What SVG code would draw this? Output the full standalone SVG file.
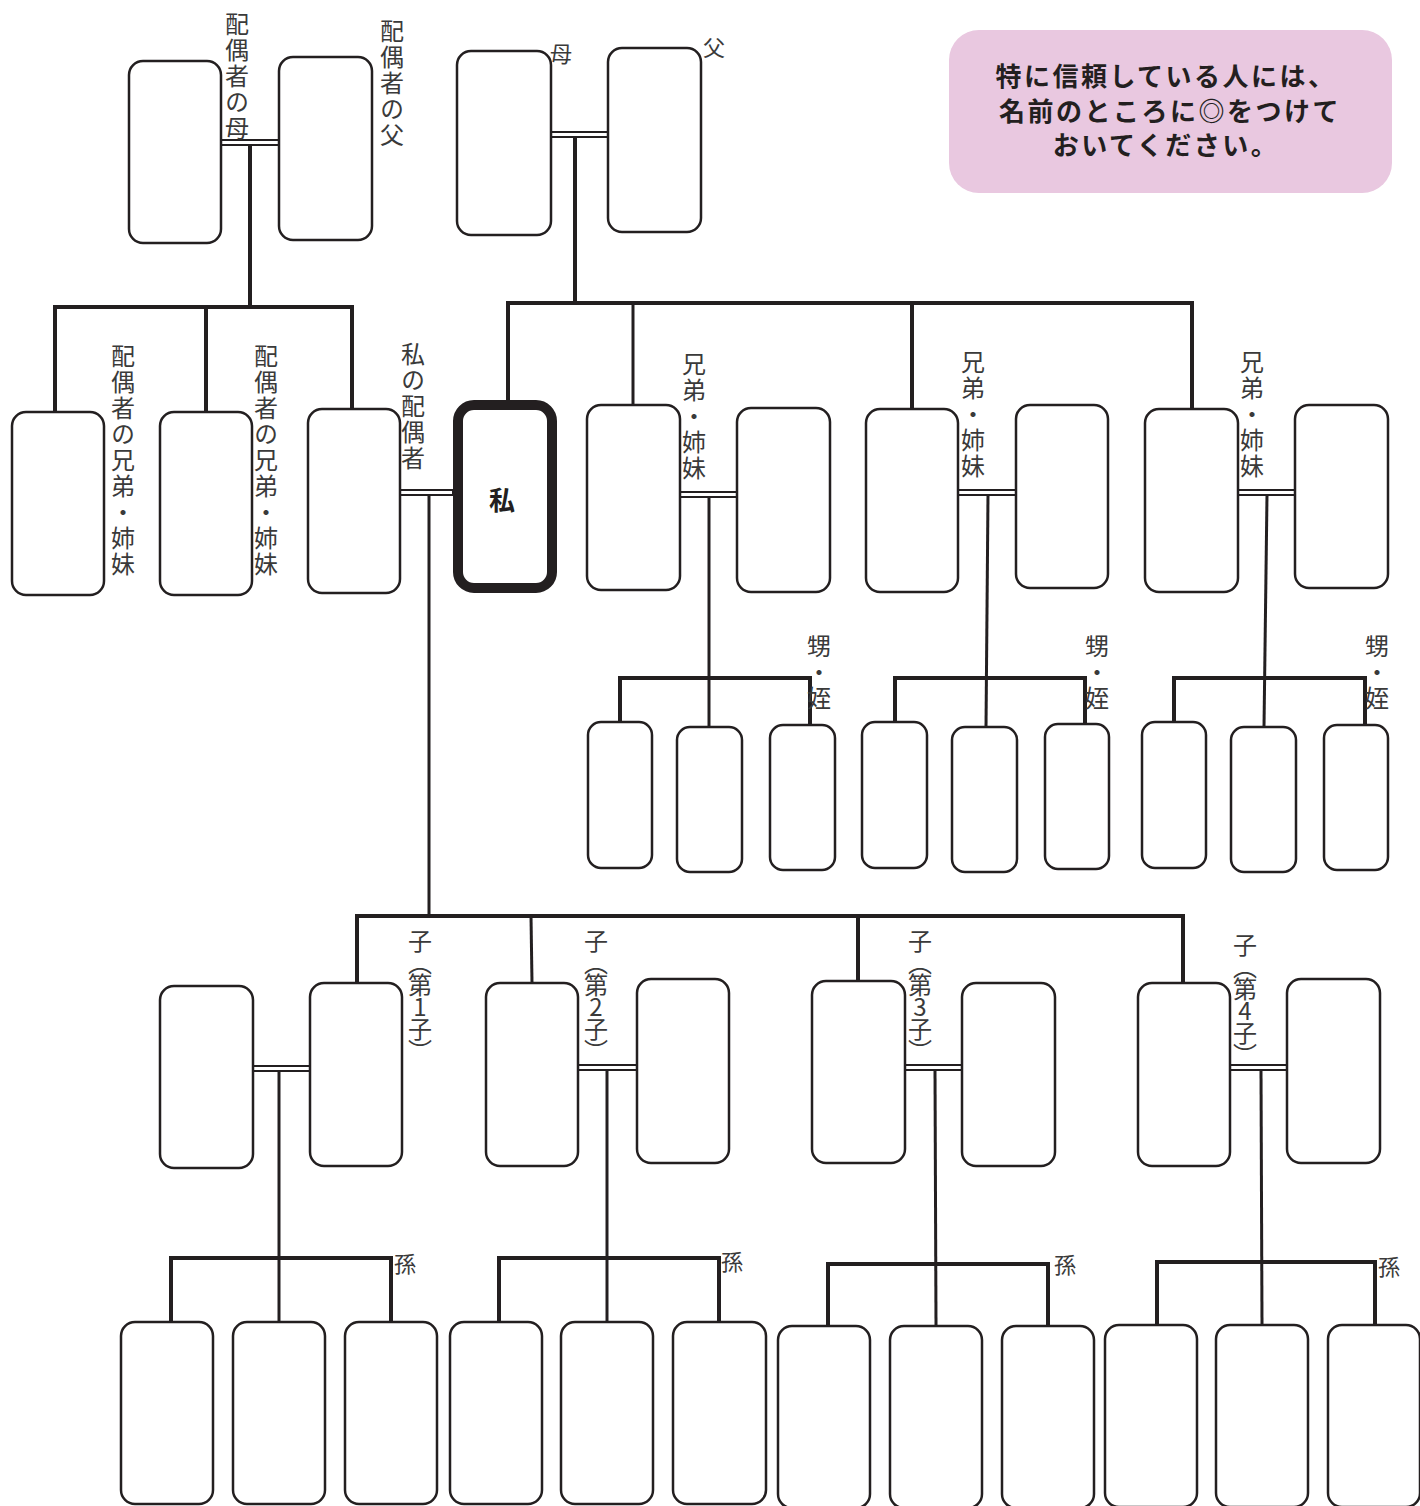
<svg xmlns="http://www.w3.org/2000/svg" width="1420" height="1506" viewBox="0 0 1420 1506">
<style>
.box{fill:#fff;stroke:#231f20;stroke-width:2.5}
.me{fill:#fff;stroke:#231f20;stroke-width:10}
.bar{stroke:#231f20;stroke-width:4;fill:none}
.drop{stroke:#231f20;stroke-width:3;fill:none}
.wed{fill:#fff;stroke:#231f20;stroke-width:2}
.lbl{font-family:"Noto Sans CJK JP","Noto Sans CJK SC",sans-serif;font-size:24px;fill:#3a3a3a;writing-mode:vertical-rl;text-orientation:upright;letter-spacing:2px}
.hl{font-family:"Noto Sans CJK JP","Noto Sans CJK SC",sans-serif;font-size:22px;fill:#3a3a3a}
.note{font-family:"Noto Sans CJK JP","Noto Sans CJK SC",sans-serif;font-size:26px;font-weight:bold;fill:#231f20;letter-spacing:2.5px;text-anchor:middle}
</style>
<rect width="1420" height="1506" fill="#fff"/>

<g id="connectors">
  <rect class="wed" x="221" y="140" width="58" height="5"/>
  <line class="bar" x1="250" y1="145" x2="250" y2="307"/>
  <line class="bar" x1="53" y1="307" x2="354" y2="307"/>
  <line class="bar" x1="55" y1="307" x2="55" y2="412"/>
  <line class="bar" x1="206" y1="307" x2="206" y2="412"/>
  <line class="bar" x1="352" y1="307" x2="352" y2="409"/>

  <rect class="wed" x="551" y="132" width="57" height="5"/>
  <line class="bar" x1="575" y1="137" x2="575" y2="303"/>
  <line class="bar" x1="506" y1="303" x2="1194" y2="303"/>
  <line class="bar" x1="508" y1="303" x2="508" y2="400"/>
  <line class="drop" x1="633" y1="303" x2="633" y2="405"/>
  <line class="bar" x1="912" y1="303" x2="912" y2="409"/>
  <line class="bar" x1="1192" y1="303" x2="1192" y2="409"/>

  <rect class="wed" x="400" y="490" width="53" height="5"/>
  <line class="drop" x1="429" y1="495" x2="429" y2="916"/>
  <line class="bar" x1="355" y1="916" x2="1185" y2="916"/>
  <line class="bar" x1="357" y1="916" x2="357" y2="983"/>
  <line class="drop" x1="531" y1="916" x2="532" y2="983"/>
  <line class="bar" x1="858" y1="916" x2="858" y2="981"/>
  <line class="bar" x1="1183" y1="916" x2="1183" y2="983"/>

  <rect class="wed" x="680" y="492" width="57" height="5"/>
  <line class="drop" x1="709" y1="497" x2="709" y2="727"/>
  <line class="bar" x1="618" y1="678" x2="812" y2="678"/>
  <line class="bar" x1="620" y1="678" x2="620" y2="722"/>
  <line class="bar" x1="810" y1="678" x2="810" y2="725"/>

  <rect class="wed" x="958" y="490" width="58" height="5"/>
  <line class="drop" x1="988" y1="495" x2="986" y2="727"/>
  <line class="bar" x1="893" y1="678" x2="1087" y2="678"/>
  <line class="bar" x1="895" y1="678" x2="895" y2="722"/>
  <line class="bar" x1="1085" y1="678" x2="1085" y2="724"/>

  <rect class="wed" x="1238" y="490" width="57" height="5"/>
  <line class="drop" x1="1267" y1="495" x2="1264" y2="727"/>
  <line class="bar" x1="1172" y1="678" x2="1367" y2="678"/>
  <line class="bar" x1="1174" y1="678" x2="1174" y2="722"/>
  <line class="bar" x1="1365" y1="678" x2="1365" y2="725"/>

  <rect class="wed" x="253" y="1066" width="57" height="5"/>
  <line class="drop" x1="279" y1="1071" x2="279" y2="1322"/>
  <line class="bar" x1="169" y1="1258" x2="393" y2="1258"/>
  <line class="bar" x1="171" y1="1258" x2="171" y2="1322"/>
  <line class="bar" x1="391" y1="1258" x2="391" y2="1322"/>

  <rect class="wed" x="578" y="1065" width="59" height="5"/>
  <line class="drop" x1="607" y1="1070" x2="607" y2="1322"/>
  <line class="bar" x1="497" y1="1258" x2="721" y2="1258"/>
  <line class="bar" x1="499" y1="1258" x2="499" y2="1322"/>
  <line class="bar" x1="719" y1="1258" x2="719" y2="1322"/>

  <rect class="wed" x="905" y="1065" width="57" height="5"/>
  <line class="drop" x1="935" y1="1070" x2="936" y2="1326"/>
  <line class="bar" x1="826" y1="1264" x2="1050" y2="1264"/>
  <line class="bar" x1="828" y1="1264" x2="828" y2="1326"/>
  <line class="bar" x1="1048" y1="1264" x2="1048" y2="1326"/>

  <rect class="wed" x="1230" y="1065" width="57" height="5"/>
  <line class="drop" x1="1261" y1="1070" x2="1262" y2="1325"/>
  <line class="bar" x1="1155" y1="1262" x2="1377" y2="1262"/>
  <line class="bar" x1="1157" y1="1262" x2="1157" y2="1325"/>
  <line class="bar" x1="1375" y1="1262" x2="1375" y2="1325"/>
</g>

<g id="note">
  <rect x="949" y="30" width="443" height="163" rx="30" fill="#e9c8e0"/>
  <text class="note" x="1166" y="86">特に信頼している人には、</text>
  <text class="note" x="1170" y="121">名前のところに◎をつけて</text>
  <text class="note" x="1166" y="155">おいてください。</text>
</g>

<g id="spouse-mother"><rect class="box" x="129" y="61" width="92" height="182" rx="14"/><text class="lbl" x="237" y="12">配偶者の母</text></g>
<g id="spouse-father"><rect class="box" x="279" y="57" width="93" height="183" rx="14"/><text class="lbl" x="392" y="19">配偶者の父</text></g>
<g id="mother"><rect class="box" x="457" y="51" width="94" height="184" rx="14"/><text class="hl" x="561" y="62" text-anchor="middle">母</text></g>
<g id="father"><rect class="box" x="608" y="48" width="93" height="184" rx="14"/><text class="hl" x="714" y="56" text-anchor="middle">父</text></g>

<g id="spouse-sibling-1"><rect class="box" x="12" y="412" width="92" height="183" rx="14"/><text class="lbl" x="123" y="344">配偶者の兄弟・姉妹</text></g>
<g id="spouse-sibling-2"><rect class="box" x="160" y="412" width="92" height="183" rx="14"/><text class="lbl" x="266" y="344">配偶者の兄弟・姉妹</text></g>
<g id="spouse"><rect class="box" x="308" y="409" width="92" height="184" rx="14"/><text class="lbl" x="413" y="342">私の配偶者</text></g>
<g id="me"><rect class="me" x="458" y="405" width="94" height="183" rx="16"/><text x="502" y="510" text-anchor="middle" font-family="Noto Sans CJK JP, sans-serif" font-size="26" font-weight="bold" fill="#231f20">私</text></g>

<g id="sibling-1"><rect class="box" x="587" y="405" width="93" height="185" rx="14"/><text class="lbl" x="694" y="352">兄弟・姉妹</text></g>
<g id="sibling-1-spouse"><rect class="box" x="737" y="408" width="93" height="184" rx="14"/></g>
<g id="sibling-2"><rect class="box" x="866" y="409" width="92" height="183" rx="14"/><text class="lbl" x="973" y="350">兄弟・姉妹</text></g>
<g id="sibling-2-spouse"><rect class="box" x="1016" y="405" width="92" height="183" rx="14"/></g>
<g id="sibling-3"><rect class="box" x="1145" y="409" width="93" height="183" rx="14"/><text class="lbl" x="1252" y="350">兄弟・姉妹</text></g>
<g id="sibling-3-spouse"><rect class="box" x="1295" y="405" width="93" height="183" rx="14"/></g>

<g id="nephew-1-1"><rect class="box" x="588" y="722" width="64" height="146" rx="13"/></g>
<g id="nephew-1-2"><rect class="box" x="677" y="727" width="65" height="145" rx="13"/></g>
<g id="nephew-1-3"><rect class="box" x="770" y="725" width="65" height="145" rx="13"/><text class="lbl" x="819" y="634">甥・姪</text></g>
<g id="nephew-2-1"><rect class="box" x="862" y="722" width="65" height="146" rx="13"/></g>
<g id="nephew-2-2"><rect class="box" x="952" y="727" width="65" height="145" rx="13"/></g>
<g id="nephew-2-3"><rect class="box" x="1045" y="724" width="64" height="145" rx="13"/><text class="lbl" x="1097" y="634">甥・姪</text></g>
<g id="nephew-3-1"><rect class="box" x="1142" y="722" width="64" height="146" rx="13"/></g>
<g id="nephew-3-2"><rect class="box" x="1231" y="727" width="65" height="145" rx="13"/></g>
<g id="nephew-3-3"><rect class="box" x="1324" y="725" width="64" height="145" rx="13"/><text class="lbl" x="1377" y="634">甥・姪</text></g>

<g id="child-1-spouse"><rect class="box" x="160" y="986" width="93" height="182" rx="14"/></g>
<g id="child-1"><rect class="box" x="310" y="983" width="92" height="183" rx="14"/><text class="lbl" x="420" y="929" style="letter-spacing:-2px">子（第1子）</text></g>
<g id="child-2"><rect class="box" x="486" y="983" width="92" height="183" rx="14"/><text class="lbl" x="596" y="929" style="letter-spacing:-2px">子（第2子）</text></g>
<g id="child-2-spouse"><rect class="box" x="637" y="979" width="92" height="184" rx="14"/></g>
<g id="child-3"><rect class="box" x="812" y="981" width="93" height="182" rx="14"/><text class="lbl" x="920" y="929" style="letter-spacing:-2px">子（第3子）</text></g>
<g id="child-3-spouse"><rect class="box" x="962" y="983" width="93" height="183" rx="14"/></g>
<g id="child-4"><rect class="box" x="1138" y="983" width="92" height="183" rx="14"/><text class="lbl" x="1245" y="933" style="letter-spacing:-2px">子（第4子）</text></g>
<g id="child-4-spouse"><rect class="box" x="1287" y="979" width="93" height="184" rx="14"/></g>

<g id="grandchild-1-1"><rect class="box" x="121" y="1322" width="92" height="182" rx="14"/></g>
<g id="grandchild-1-2"><rect class="box" x="233" y="1322" width="92" height="182" rx="14"/></g>
<g id="grandchild-1-3"><rect class="box" x="345" y="1322" width="92" height="182" rx="14"/><text class="hl" x="405" y="1272" text-anchor="middle">孫</text></g>
<g id="grandchild-2-1"><rect class="box" x="450" y="1322" width="92" height="182" rx="14"/></g>
<g id="grandchild-2-2"><rect class="box" x="561" y="1322" width="92" height="182" rx="14"/></g>
<g id="grandchild-2-3"><rect class="box" x="673" y="1322" width="93" height="182" rx="14"/><text class="hl" x="732" y="1270" text-anchor="middle">孫</text></g>
<g id="grandchild-3-1"><rect class="box" x="778" y="1326" width="92" height="182" rx="14"/></g>
<g id="grandchild-3-2"><rect class="box" x="890" y="1326" width="92" height="182" rx="14"/></g>
<g id="grandchild-3-3"><rect class="box" x="1002" y="1326" width="92" height="182" rx="14"/><text class="hl" x="1065" y="1273" text-anchor="middle">孫</text></g>
<g id="grandchild-4-1"><rect class="box" x="1105" y="1325" width="92" height="182" rx="14"/></g>
<g id="grandchild-4-2"><rect class="box" x="1216" y="1325" width="92" height="182" rx="14"/></g>
<g id="grandchild-4-3"><rect class="box" x="1328" y="1325" width="92" height="182" rx="14"/><text class="hl" x="1389" y="1275" text-anchor="middle">孫</text></g>
</svg>
